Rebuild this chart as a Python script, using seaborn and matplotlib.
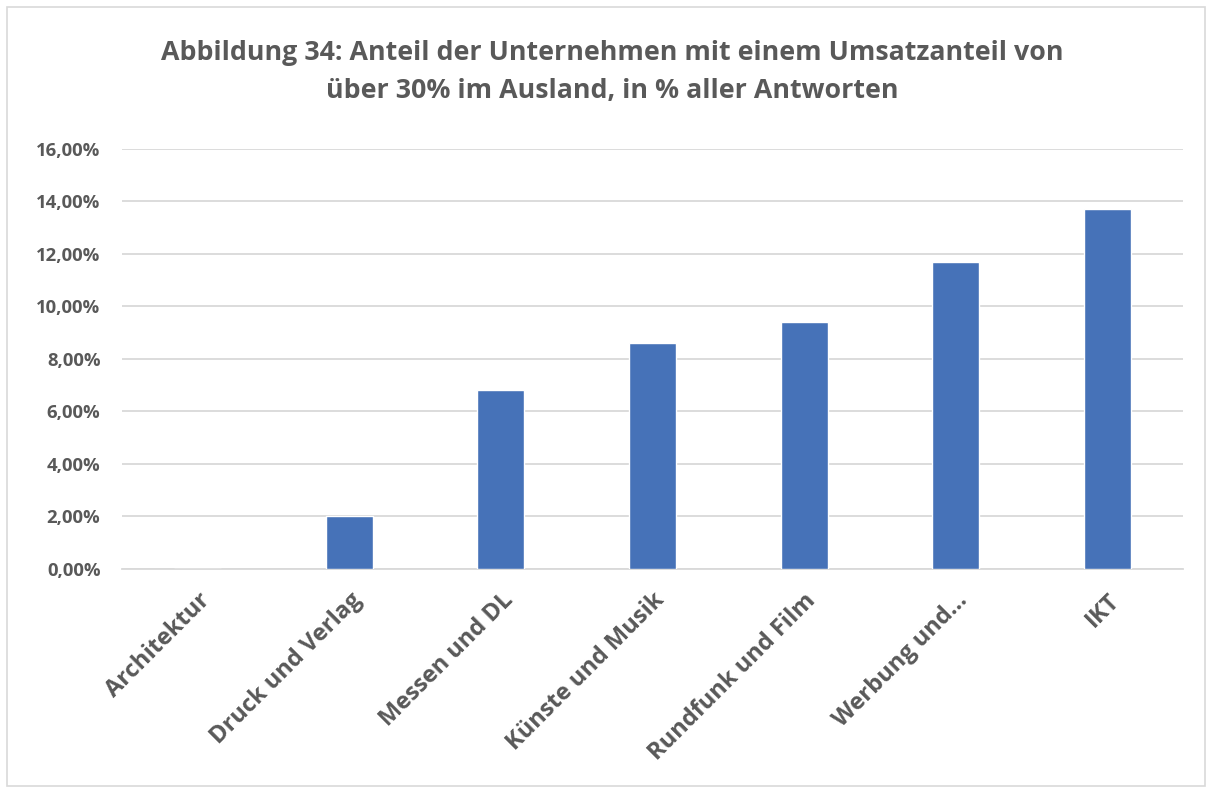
import matplotlib
matplotlib.use('Agg')
import matplotlib.pyplot as plt
import seaborn as sns
import pandas as pd
from matplotlib.patches import Rectangle
from matplotlib.ticker import FuncFormatter

# values (percent of all answers)
categories = ['Architektur', 'Druck und Verlag', 'Messen und DL', 'Künste und Musik',
              'Rundfunk und Film', 'Werbung und...', 'IKT']
shares = [0.0, 2.0, 6.8, 8.6, 9.4, 11.7, 13.7]
title = 'Abbildung 34: Anteil der Unternehmen mit einem Umsatzanteil von\nüber 30% im Ausland, in % aller Antworten'

sns.set_theme(style='white')
plt.rcParams['font.family'] = ['Open Sans', 'DejaVu Sans']

text_col = '#595959'
bar_col = '#4672B8'

df = pd.DataFrame({'cat': categories, 'val': shares})

fig = plt.figure(figsize=(12.13, 7.92), dpi=100)
ax = fig.add_axes([0.1006, 0.2816, 0.8747, 0.5303])

sns.barplot(data=df, x='cat', y='val', color=bar_col, width=0.31,
            saturation=1, ax=ax, zorder=3)

ax.set_ylim(0, 16)
ax.set_yticks(range(0, 17, 2))
ax.yaxis.set_major_formatter(FuncFormatter(lambda v, _: f'{v:.2f}%'.replace('.', ',')))
ax.grid(axis='y', color='#d9d9d9', linewidth=1.3, zorder=0)
ax.grid(axis='x', visible=False)
for s in ['top', 'right', 'left']:
    ax.spines[s].set_visible(False)
ax.spines['bottom'].set_color('#d9d9d9')
ax.spines['bottom'].set_linewidth(1.3)

ax.set_xlabel('')
ax.set_ylabel('')
ax.tick_params(axis='y', length=0, pad=15.5, labelsize=13.3, labelcolor=text_col)
ax.tick_params(axis='x', length=0, pad=14, labelsize=17, labelcolor=text_col)
for lbl in ax.get_yticklabels():
    lbl.set_fontweight('bold')
for lbl in ax.get_xticklabels():
    lbl.set_fontweight('bold')
    lbl.set_rotation(45)
    lbl.set_ha('right')
    lbl.set_rotation_mode('anchor')

fig.text(0.505, 0.909, title, ha='center', va='center', fontsize=19.3,
         fontweight='bold', color=text_col, linespacing=1.6)

# outer chart border
fig.patches.append(Rectangle((0.006, 0.008), 0.987, 0.983, transform=fig.transFigure,
                             fill=False, edgecolor='#d9d9d9', linewidth=1.2))

fig.savefig('out.png', dpi=100)
